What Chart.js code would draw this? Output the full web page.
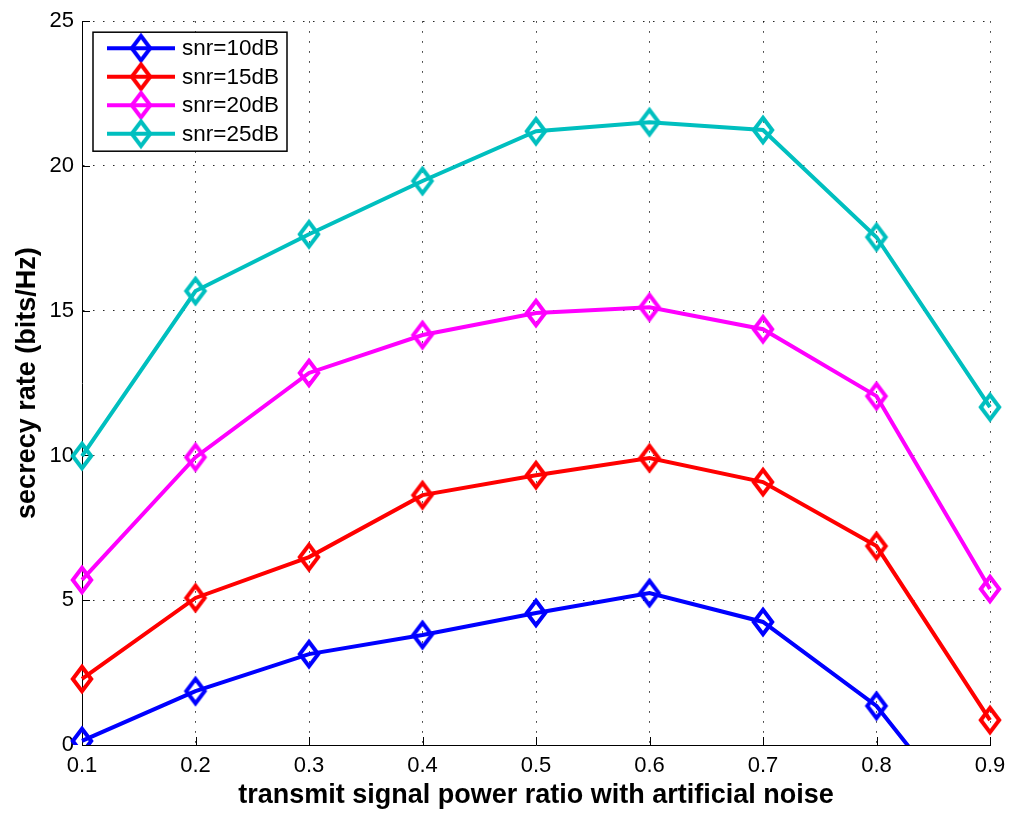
<!DOCTYPE html>
<html>
<head>
<meta charset="utf-8">
<script src="https://cdn.jsdelivr.net/npm/chart.js@4/dist/chart.umd.min.js"></script>
<style>
    html, body { margin: 0; padding: 0; background: #fff; }
    canvas { display: block; }
</style>
</head>
<body>
<canvas id="chart" width="1015" height="814"></canvas>
<script>
// power ratio categories on the x axis
const ratios = ['0.1', '0.2', '0.3', '0.4', '0.5', '0.6', '0.7', '0.8', '0.9'];

// secrecy rate per snr level (bits/Hz)
const snr10 = [0.14, 1.86, 3.14, 3.80, 4.56, 5.25, 4.25, 1.35, -3.6];
const snr15 = [2.28, 5.08, 6.49, 8.63, 9.32, 9.91, 9.08, 6.87, 0.86];
const snr20 = [5.70, 9.94, 12.85, 14.16, 14.92, 15.12, 14.36, 12.05, 5.39];
const snr25 = [9.98, 15.68, 17.64, 19.48, 21.20, 21.51, 21.24, 17.54, 11.67];

const seriesNames = ['snr=10dB', 'snr=15dB', 'snr=20dB', 'snr=25dB'];
const seriesColors = ['#0000ff', '#ff0000', '#ff00ff', '#00bfbf'];
const rateTicks = [0, 5, 10, 15, 20, 25];

const FONT = '"Liberation Sans", Arial, Helvetica, sans-serif';

// hollow, slightly tall diamond used as the point marker
function diamond(color) {
    const c = document.createElement('canvas');
    c.width = 30;
    c.height = 38;
    const g = c.getContext('2d');
    g.strokeStyle = color;
    g.lineWidth = 4;
    g.lineJoin = 'miter';
    g.beginPath();
    g.moveTo(15, 19 - 12.2);
    g.lineTo(15 + 9.2, 19);
    g.lineTo(15, 19 + 12.2);
    g.lineTo(15 - 9.2, 19);
    g.closePath();
    g.stroke();
    return c;
}

const markers = seriesColors.map(diamond);
const seriesData = [snr10, snr15, snr20, snr25];

const datasets = seriesData.map((values, i) => ({
    label: seriesNames[i],
    data: values,
    borderColor: seriesColors[i],
    backgroundColor: seriesColors[i],
    borderWidth: 4,
    tension: 0,
    pointStyle: markers[i],
    pointRadius: 12,
    pointHoverRadius: 12,
    order: seriesData.length - i,
    clip: { left: 20, top: 20, right: 20, bottom: 0 },
}));

// inward tick marks and the boxed legend
const axisDecor = {
    id: 'axisDecor',
    beforeDatasetsDraw(chart) {
        const { ctx, chartArea: a, scales: { x, y } } = chart;
        ctx.save();
        ctx.strokeStyle = '#000';
        ctx.lineWidth = 1;
        ctx.setLineDash([]);
        ctx.beginPath();
        y.ticks.forEach((t, i) => {
            const py = Math.round(y.getPixelForTick(i)) + 0.5;
            ctx.moveTo(a.left, py);
            ctx.lineTo(a.left + 8, py);
        });
        x.ticks.forEach((t, i) => {
            const px = Math.round(x.getPixelForTick(i)) + 0.5;
            ctx.moveTo(px, a.bottom);
            ctx.lineTo(px, a.bottom - 8);
        });
        ctx.stroke();
        ctx.restore();
    },
    afterDatasetsDraw(chart) {
        const { ctx, chartArea: a } = chart;
        const bx = a.left + 11, by = a.top + 11, bw = 194, bh = 119;
        ctx.save();
        ctx.fillStyle = '#fff';
        ctx.fillRect(bx, by, bw, bh);
        ctx.strokeStyle = '#000';
        ctx.lineWidth = 1.5;
        ctx.strokeRect(bx, by, bw, bh);
        ctx.font = '22.5px ' + FONT;
        ctx.textBaseline = 'middle';
        ctx.textAlign = 'left';
        chart.data.datasets.forEach((ds, i) => {
            const ly = by + 16 + i * 28.5;
            ctx.strokeStyle = ds.borderColor;
            ctx.lineWidth = 4;
            ctx.beginPath();
            ctx.moveTo(bx + 14, ly);
            ctx.lineTo(bx + 82, ly);
            ctx.stroke();
            const m = ds.pointStyle;
            ctx.drawImage(m, bx + 48 - m.width / 2, ly - m.height / 2);
            ctx.fillStyle = '#000';
            ctx.fillText(ds.label, bx + 89, ly + 1);
        });
        ctx.restore();
    },
};

new Chart(document.getElementById('chart'), {
    type: 'line',
    data: { labels: ratios, datasets },
    plugins: [axisDecor],
    options: {
        responsive: false,
        devicePixelRatio: 1,
        animation: false,
        layout: { padding: { top: 21, right: 25, left: 0, bottom: 0 } },
        plugins: {
            legend: { display: false },
            tooltip: { enabled: false },
        },
        scales: {
            x: {
                type: 'category',
                offset: false,
                grid: { color: 'rgba(0,0,0,0.85)', lineWidth: 1, drawTicks: false },
                border: { display: true, color: '#000', width: 1, dash: [1.5, 8.5] },
                ticks: {
                    color: '#000',
                    padding: 8,
                    maxRotation: 0,
                    autoSkip: false,
                    font: { family: FONT, size: 22 },
                },
                title: {
                    display: true,
                    text: 'transmit signal power ratio with artificial noise',
                    color: '#000',
                    font: { family: FONT, size: 27, weight: 'bold' },
                    padding: { top: 0, bottom: 2 },
                },
                afterFit(scale) { scale.height = 69; },
            },
            y: {
                min: 0,
                max: 25,
                afterBuildTicks(scale) {
                    scale.ticks = rateTicks.map(v => ({ value: v }));
                },
                grid: { color: 'rgba(0,0,0,0.85)', lineWidth: 1, drawTicks: false },
                border: { display: true, color: '#000', width: 1, dash: [1.5, 8.5] },
                ticks: {
                    color: '#000',
                    padding: 8,
                    font: { family: FONT, size: 22 },
                },
                title: {
                    display: true,
                    text: 'secrecy rate (bits/Hz)',
                    color: '#000',
                    font: { family: FONT, size: 27, weight: 'bold' },
                    padding: { top: 11, bottom: 0 },
                },
                afterFit(scale) { scale.width = 82; },
            },
        },
    },
});
</script>
</body>
</html>
